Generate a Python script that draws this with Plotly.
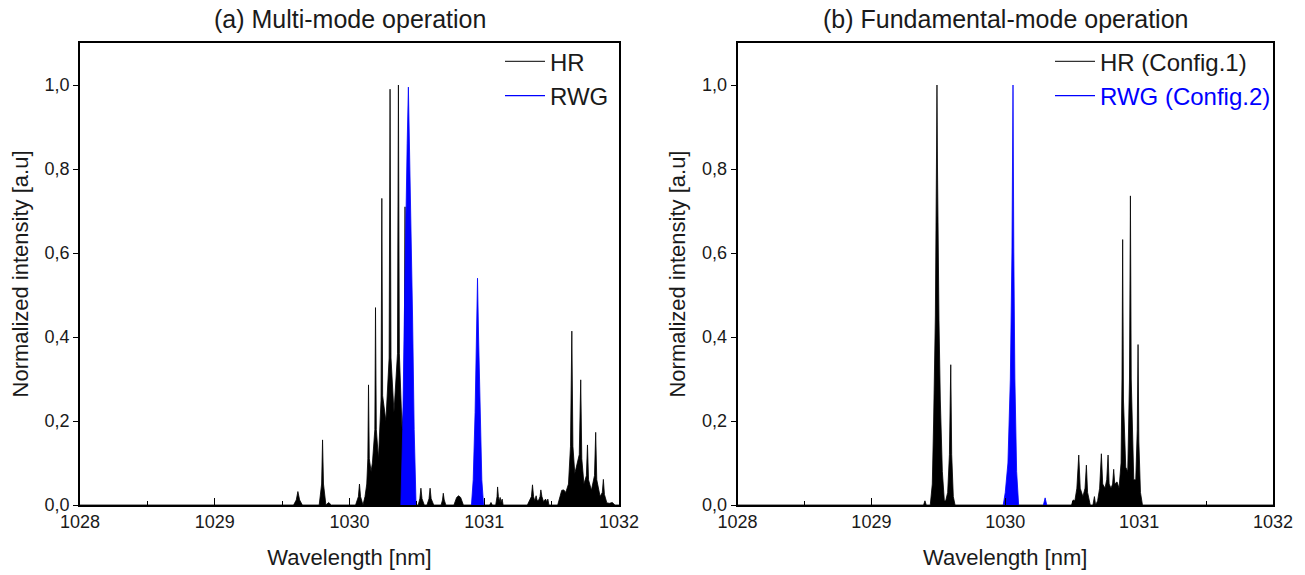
import plotly.graph_objects as go

# ---------------- data ----------------
panel_titles = ["(a) Multi-mode operation", "(b) Fundamental-mode operation"]
x_title = "Wavelength [nm]"
y_title = "Normalized intensity [a.u]"
y_tick_vals = [0.0, 0.2, 0.4, 0.6, 0.8, 1.0]
y_tick_text = ["0,0", "0,2", "0,4", "0,6", "0,8", "1,0"]
x_tick_vals = [1028, 1029, 1030, 1031, 1032]

# (a) HR spectrum
hr_a_nm = [1028.000, 1029.585, 1029.605, 1029.617, 1029.630, 1029.650,
           1029.775, 1029.793, 1029.800, 1029.807, 1029.825, 1029.845, 1029.865,
           1030.045, 1030.066, 1030.074, 1030.082, 1030.100,
           1030.115, 1030.128, 1030.136, 1030.141, 1030.147, 1030.160,
           1030.170, 1030.188, 1030.193, 1030.199, 1030.215,
           1030.234, 1030.240, 1030.246, 1030.270,
           1030.294, 1030.301, 1030.308, 1030.330,
           1030.356, 1030.363, 1030.370, 1030.390,
           1030.406, 1030.412, 1030.418, 1030.435, 1030.455, 1030.470,
           1030.510, 1030.522, 1030.530, 1030.538, 1030.555,
           1030.575, 1030.590, 1030.598, 1030.606, 1030.625,
           1030.680, 1030.690, 1030.696, 1030.703, 1030.715,
           1030.775, 1030.795, 1030.810, 1030.825, 1030.845,
           1031.040, 1031.050, 1031.060,
           1031.085, 1031.095, 1031.099, 1031.105, 1031.112, 1031.118, 1031.124, 1031.133, 1031.140,
           1031.320, 1031.335, 1031.350, 1031.358, 1031.366, 1031.375, 1031.385, 1031.393,
           1031.405, 1031.414, 1031.420, 1031.428, 1031.440, 1031.455, 1031.463, 1031.472, 1031.480,
           1031.545, 1031.560, 1031.575, 1031.590, 1031.605, 1031.625,
           1031.640, 1031.650, 1031.658, 1031.672,
           1031.705, 1031.716, 1031.724, 1031.740,
           1031.758, 1031.766, 1031.774, 1031.795,
           1031.818, 1031.827, 1031.835, 1031.860,
           1031.876, 1031.884, 1031.892, 1031.910, 1031.930, 1031.950, 1031.970, 1032.000]
hr_a_int = [0.0, 0.0, 0.012, 0.032, 0.012, 0.0,
            0.0, 0.05, 0.155, 0.05, 0.0, 0.006, 0.0,
            0.0, 0.02, 0.05, 0.02, 0.0,
            0.02, 0.05, 0.11, 0.286, 0.11, 0.08,
            0.10, 0.18, 0.47, 0.18, 0.11,
            0.25, 0.73, 0.26, 0.20,
            0.35, 0.99, 0.35, 0.22,
            0.36, 1.00, 0.36, 0.18,
            0.26, 0.71, 0.26, 0.10, 0.04, 0.0,
            0.0, 0.015, 0.04, 0.015, 0.0,
            0.0, 0.015, 0.04, 0.015, 0.0,
            0.0, 0.012, 0.028, 0.012, 0.0,
            0.0, 0.018, 0.022, 0.018, 0.0,
            0.0, 0.006, 0.0,
            0.0, 0.02, 0.043, 0.02, 0.008, 0.018, 0.006, 0.014, 0.0,
            0.0, 0.012, 0.02, 0.048, 0.02, 0.01, 0.022, 0.01,
            0.012, 0.02, 0.036, 0.02, 0.008, 0.014, 0.008, 0.014, 0.0,
            0.0, 0.02, 0.035, 0.036, 0.03, 0.05,
            0.14, 0.414, 0.14, 0.075,
            0.12, 0.298, 0.11, 0.05,
            0.07, 0.143, 0.06, 0.035,
            0.07, 0.173, 0.06, 0.02,
            0.03, 0.061, 0.025, 0.005, 0.004, 0.006, 0.0, 0.0]

# (a) RWG spectrum (None separates the two emission lines)
rwg_a_nm = [1030.381, 1030.395, 1030.407, 1030.418, 1030.428, 1030.437,
            1030.447, 1030.458, 1030.468, 1030.480, 1030.494, None,
            1030.905, 1030.918, 1030.932, 1030.942, 1030.950, 1030.958, 1030.968,
            1030.982, 1030.995]
rwg_a_int = [0.0, 0.18, 0.45, 0.70, 0.86, 0.995,
             0.84, 0.66, 0.45, 0.18, 0.0, None,
             0.0, 0.06, 0.22, 0.40, 0.54, 0.40, 0.22,
             0.06, 0.0]

# (b) HR (Config.1) spectrum
hr_b_nm = [1028.000, 1029.390, 1029.400, 1029.410,
           1029.440, 1029.455, 1029.465, 1029.478, 1029.487, 1029.490, 1029.494,
           1029.500, 1029.505, 1029.515, 1029.530, 1029.545, 1029.555,
           1029.570, 1029.583, 1029.593, 1029.600, 1029.612, 1029.625,
           1030.495, 1030.507, 1030.520, 1030.535, 1030.549, 1030.560, 1030.580,
           1030.596, 1030.606, 1030.615, 1030.635,
           1030.655, 1030.666, 1030.675,
           1030.690, 1030.705, 1030.718, 1030.728, 1030.745,
           1030.758, 1030.768, 1030.776, 1030.790,
           1030.802, 1030.810, 1030.818, 1030.835, 1030.850,
           1030.865, 1030.872, 1030.877, 1030.883, 1030.900,
           1030.915, 1030.928, 1030.935, 1030.941, 1030.960,
           1030.975, 1030.986, 1030.992, 1030.998, 1031.010, 1031.025, 1032.000]
hr_b_int = [0.0, 0.0, 0.01, 0.0,
            0.0, 0.05, 0.20, 0.45, 0.85, 1.0, 0.80,
            0.50, 0.44, 0.25, 0.08, 0.01, 0.01,
            0.03, 0.12, 0.334, 0.12, 0.02, 0.0,
            0.0, 0.012, 0.01, 0.04, 0.119, 0.04, 0.02,
            0.04, 0.095, 0.03, 0.0,
            0.0, 0.02, 0.0,
            0.01, 0.04, 0.122, 0.05, 0.04,
            0.06, 0.119, 0.05, 0.04,
            0.05, 0.085, 0.05, 0.055, 0.04,
            0.10, 0.30, 0.632, 0.25, 0.09,
            0.08, 0.30, 0.736, 0.30, 0.06,
            0.06, 0.18, 0.382, 0.15, 0.03, 0.0, 0.0]

# (b) RWG (Config.2) spectrum (None separates the two lines)
rwg_b_nm = [1029.985, 1030.000, 1030.020, 1030.038, 1030.050, 1030.058,
            1030.064, 1030.072, 1030.085, 1030.100, None,
            1030.285, 1030.298, 1030.310]
rwg_b_int = [0.0, 0.03, 0.10, 0.30, 0.60, 1.0,
             0.60, 0.30, 0.08, 0.0, None,
             0.0, 0.017, 0.0]

BLACK = "#000000"
BLUE = "#0000ff"
TXT = "#1a1a1a"
FONT = "Arial, Liberation Sans, sans-serif"

fig = go.Figure()

def spectrum(x, y, color, xa, ya):
    return go.Scatter(x=x, y=y, mode="lines", fill="tozeroy", connectgaps=False,
                      line=dict(color=color, width=0.8), fillcolor=color,
                      xaxis=xa, yaxis=ya, showlegend=False, hoverinfo="x+y")

fig.add_trace(spectrum(hr_a_nm, hr_a_int, BLACK, "x", "y"))
fig.add_trace(spectrum(rwg_a_nm, rwg_a_int, BLUE, "x", "y"))
fig.add_trace(spectrum(hr_b_nm, hr_b_int, BLACK, "x2", "y2"))
fig.add_trace(spectrum(rwg_b_nm, rwg_b_int, BLUE, "x2", "y2"))

# legend entries
def legend_entry(name, color, xa, ya, leg):
    return go.Scatter(x=[None], y=[None], mode="lines", name=name,
                      line=dict(color=color, width=1.3), xaxis=xa, yaxis=ya,
                      legend=leg, showlegend=True)

fig.add_trace(legend_entry("HR", "#333333", "x", "y", "legend"))
fig.add_trace(legend_entry("RWG", BLUE, "x", "y", "legend"))
fig.add_trace(legend_entry("HR (Config.1)", "#333333", "x2", "y2", "legend2"))
fig.add_trace(legend_entry("<span style='color:#0000ff'>RWG (Config.2)</span>", BLUE, "x2", "y2", "legend2"))

# plot area: x 80..1273 px, y 43..505 px
ML, MR, MT, MB = 80, 32, 43, 70
W, H = 1305, 575
PW = W - ML - MR
xdom1 = [0.0, (619 - ML) / PW]
xdom2 = [(737.5 - ML) / PW, 1.0]
ydom = [0.0, 1.0]

def xaxis_cfg(dom, anchor):
    return dict(domain=dom, anchor=anchor, range=[1028, 1032], automargin=False,
                tickvals=x_tick_vals, ticks="inside", ticklen=7, tickwidth=1.2,
                tickcolor=BLACK,
                minor=dict(dtick=0.5, tick0=1028, ticks="inside", ticklen=4,
                           tickwidth=1.2, tickcolor=BLACK, showgrid=False),
                showline=True, linecolor=BLACK, linewidth=1.5, mirror=True,
                showgrid=False, zeroline=False,
                tickfont=dict(family=FONT, size=18, color=TXT),
                title=dict(text=x_title, font=dict(family=FONT, size=22, color=TXT),
                           standoff=18))

def yaxis_cfg(anchor):
    return dict(domain=ydom, anchor=anchor, range=[0, 1.1], automargin=False,
                tickvals=y_tick_vals, ticktext=y_tick_text,
                ticks="outside", ticklen=5, tickwidth=1.2, tickcolor=BLACK,
                showline=True, linecolor=BLACK, linewidth=1.5, mirror=True,
                showgrid=False, zeroline=False,
                tickfont=dict(family=FONT, size=18, color=TXT),
                title=dict(text=y_title, font=dict(family=FONT, size=22, color=TXT),
                           standoff=10))

leg_common = dict(font=dict(family=FONT, size=24, color=TXT),
                  bgcolor="rgba(0,0,0,0)", borderwidth=0,
                  xanchor="left", yanchor="top", itemwidth=40,
                  tracegroupgap=0)

title_y = (H - MB - 19) / (H - MT - MB)

fig.update_layout(
    width=W, height=H,
    margin=dict(l=ML, r=MR, t=MT, b=MB, autoexpand=False),
    paper_bgcolor="white", plot_bgcolor="white",
    xaxis=xaxis_cfg(xdom1, "y"),
    yaxis=yaxis_cfg("x"),
    xaxis2=xaxis_cfg(xdom2, "y2"),
    yaxis2=yaxis_cfg("x2"),
    legend=dict(x=(500 - ML) / PW, y=1.008, **leg_common),
    legend2=dict(x=(1050 - ML) / PW, y=1.008, **leg_common),
    annotations=[
        dict(text=panel_titles[0], x=sum(xdom1) / 2, y=title_y, xref="paper", yref="paper",
             xanchor="center", yanchor="middle",
             showarrow=False, font=dict(family=FONT, size=25, color=TXT)),
        dict(text=panel_titles[1], x=sum(xdom2) / 2, y=title_y, xref="paper", yref="paper",
             xanchor="center", yanchor="middle",
             showarrow=False, font=dict(family=FONT, size=25, color=TXT)),
    ],
)

fig.write_html("out.html", config={"displayModeBar": False},
               post_script="document.body.style.margin='0px';")
